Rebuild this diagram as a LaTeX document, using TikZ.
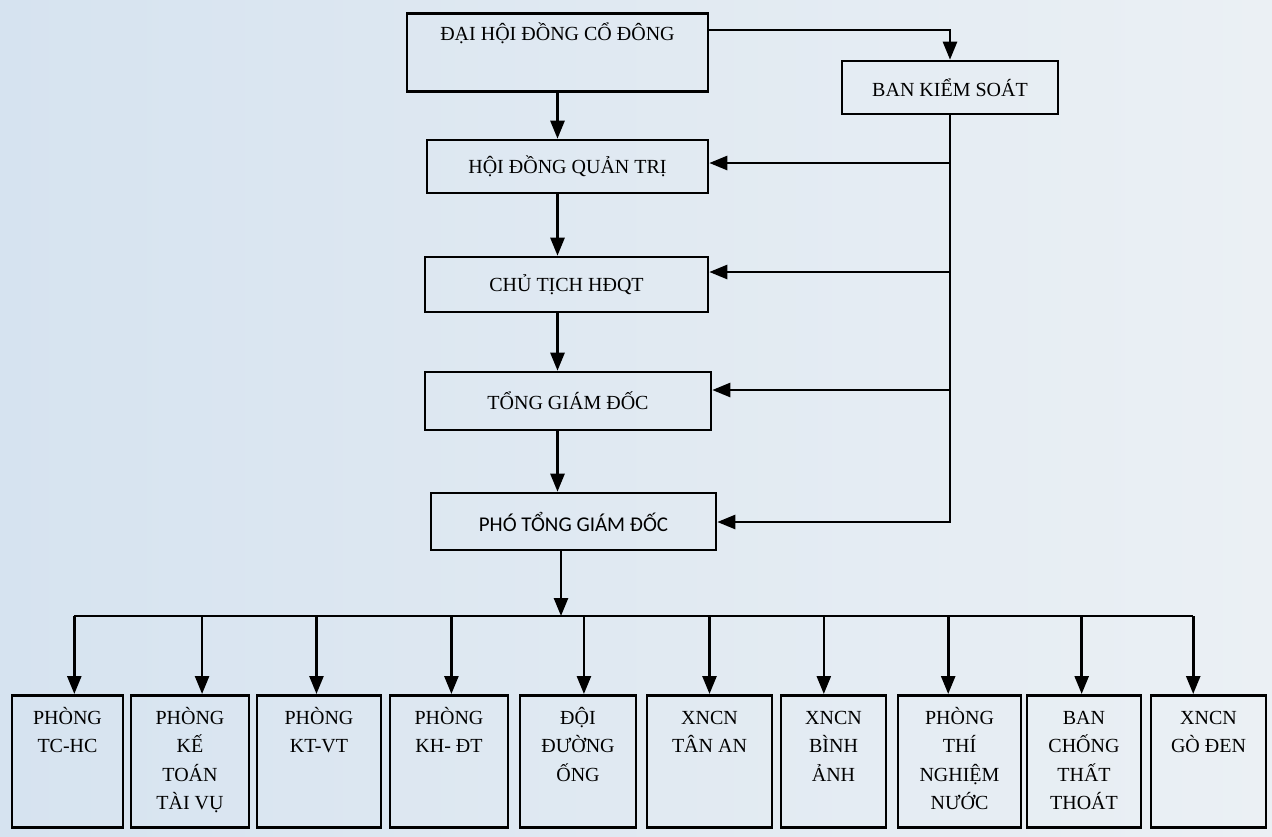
\documentclass[tikz,border=0pt]{standalone}
\usepackage{fontspec}
\setmainfont{Liberation Serif}
\newfontfamily\sansvn{Carlito}
\usepackage{tikz}
\usetikzlibrary{arrows.meta,positioning,calc}
\definecolor{paperL}{RGB}{214,227,240}
\definecolor{paperR}{RGB}{235,240,244}
\newcommand{\unittext}[1]{\parbox[c][132pt][t]{100pt}{\centering\vspace*{9pt}\strut#1}}
\tikzset{
  orgbox/.style={draw,line width=2.6pt,inner sep=0pt,font=\fontsize{20}{24}\selectfont},
  unitbox/.style={orgbox,anchor=north,minimum height=132pt,font=\fontsize{20}{28.5}\selectfont},
  link/.style={line width=2.6pt}
}

\begin{document}
\begin{tikzpicture}[x=1pt,y=-1pt,>={Triangle[length=18pt,width=14pt]}]
% paper
\useasboundingbox (0,0) rectangle (1272,836);
\fill[left color=paperL,right color=paperR] (0,0) rectangle (1272,836);
% upper chain
\node[orgbox,anchor=north,minimum width=301pt,text height=27pt,text depth=51pt] (dhdcd) at (557.5,12) {ĐẠI HỘI ĐỒNG CỔ ĐÔNG};
\node[orgbox,minimum width=216pt,minimum height=53pt] (bks) at (950,87.5) {BAN KIỂM SOÁT};
\node[orgbox,minimum width=281pt,minimum height=53pt] (hdqt) at (567.5,166.5) {HỘI ĐỒNG QUẢN TRỊ};
\node[orgbox,minimum width=283pt,minimum height=55pt] (ctich) at (566.5,284.5) {CHỦ TỊCH HĐQT};
\node[orgbox,minimum width=286pt,minimum height=58pt] (tgd) at (568,401) {TỔNG GIÁM ĐỐC};
\node[orgbox,minimum width=285pt,minimum height=57pt,font=\sansvn\fontsize{21}{24}\selectfont] (ptgd) at (573.5,521.5) {PHÓ TỔNG GIÁM ĐỐC};
\draw[link,->] (dhdcd.south) -- (dhdcd.south |- hdqt.north);
\draw[link,->] (hdqt.south -| dhdcd.south) -- (dhdcd.south |- ctich.north);
\draw[link,->] (ctich.south -| dhdcd.south) -- (dhdcd.south |- tgd.north);
\draw[link,->] (tgd.south -| dhdcd.south) -- (dhdcd.south |- ptgd.north);
% supervision line
\coordinate (t0) at (708,30);
\draw[link,->] (t0 -| dhdcd.east) -| (bks.north);
\coordinate (k1) at (950,163);
\coordinate (k2) at (950,272);
\coordinate (k3) at (950,390);
\coordinate (k4) at (950,522);
\draw[link,->] (bks.south) -- (k4) -- (k4 -| ptgd.east);
\draw[link,->] (k1) -- (k1 -| hdqt.east);
\draw[link,->] (k2) -- (k2 -| ctich.east);
\draw[link,->] (k3) -- (k3 -| tgd.east);
% units
\foreach \nm/\cx/\bw/\txt in {
  u1/67.5/111/{PHÒNG\\TC-HC},
  u2/190/118/{PHÒNG\\KẾ\\TOÁN\\TÀI VỤ},
  u3/319/124/{PHÒNG\\KT-VT},
  u4/449/118/{PHÒNG\\KH- ĐT},
  u5/578/116/{ĐỘI\\ĐƯỜNG\\ỐNG},
  u6/709.5/125/{XNCN\\TÂN AN},
  u7/833.5/105/{XNCN\\BÌNH\\ẢNH},
  u8/959.5/123/{PHÒNG\\THÍ\\NGHIỆM\\NƯỚC},
  u9/1084/114/{BAN\\CHỐNG\\THẤT\\THOÁT},
  u10/1208.5/115/{XNCN\\GÒ ĐEN}}
  \node[unitbox,minimum width=\bw pt] (\nm) at (\cx,694) {\unittext{\txt}};
% bus
\coordinate (bus) at (561,616);
\draw[link,->] (ptgd.south -| bus) -- (bus);
\foreach \nm/\f in {u1/0.56,u2/0.60,u3/0.48,u4/0.52,u5/0.55,u6/0.50,u7/0.41,u8/0.41,u9/0.48,u10/0.37}
  \coordinate (\nm-in) at ($(\nm.north west)!\f!(\nm.north east)$);
\draw[link] (u1-in |- bus) -- (u10-in |- bus);
\foreach \nm in {u1,u2,u3,u4,u5,u6,u7,u8,u9,u10}
  \draw[link,->] (\nm-in |- bus) -- (\nm-in);
\end{tikzpicture}
\end{document}
